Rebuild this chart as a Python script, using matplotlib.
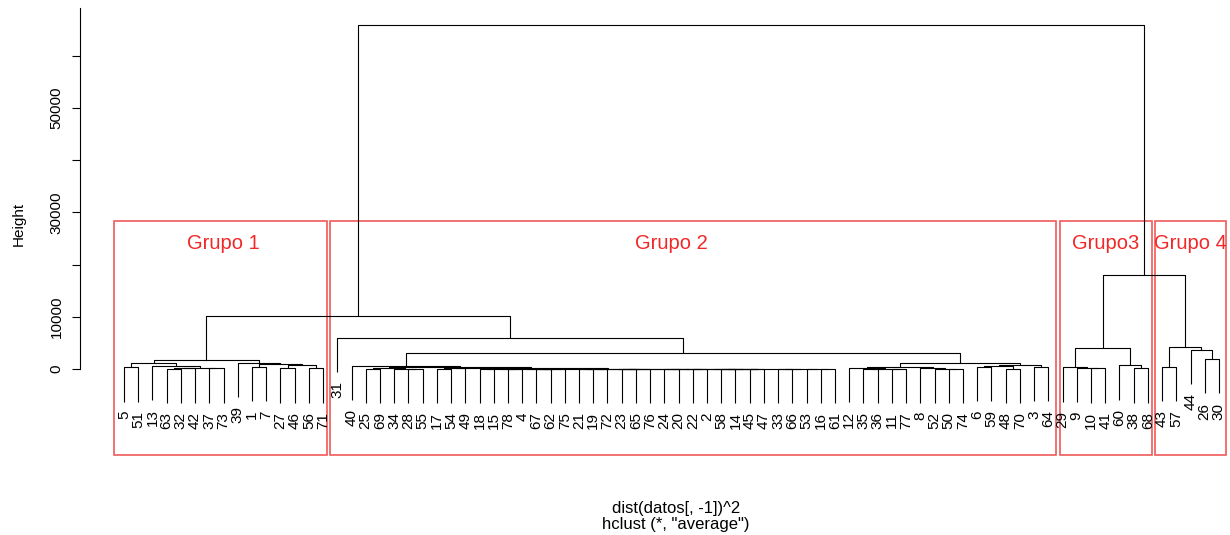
import matplotlib.pyplot as plt
from matplotlib.patches import Rectangle

plt.rcParams["font.family"] = ["Liberation Sans", "DejaVu Sans"]

# arbol de cada grupo: [izq, der, altura], los enteros son las observaciones
grupo1 = [[[5, 51, 330], [13, [[[63, 32, 80], 42, 150], [37, 73, 100], 250], 630], 1090],
          [39, [[1, 7, 440], [[27, 46, 150], [56, 71, 130], 700], 900], 1200],
          1720]

g2_b12 = [[[18, 15, 0], [78, 4, 0], 10], [[67, 62, 0], 75, 10], 20]
g2_b34 = [[[[21, 19, 0], 72, 10], [[23, 65, 0], 76, 10], 20],
          [[[[24, 20, 0], [22, 2, 0], 10], [[58, 14, 0], [45, 47, 0], 10], 20],
           [[33, 66, 0], [53, [16, 61, 0], 10], 20], 30],
          40]
g2_c531 = [[[17, 54, 60], 49, 120], [g2_b12, g2_b34, 50], 200]
g2_c405 = [40, [[[25, 69, 60], [34, [28, 55, 40], 80], 150], g2_c531, 290], 650]
g2_c897 = [[12, [[35, 36, 0], [11, 77, 0], 10], 250], [8, [52, [50, 74, 30], 60], 150], 440]
g2_c1020 = [[[6, 59, 400], [48, 70, 50], 600], [3, 64, 450], 800]
grupo2 = [31, [g2_c405, [g2_c897, g2_c1020, 1090], 3070], 5940]

grupo3 = [[29, [9, [10, 41, 130], 200], 300], [60, [38, 68, 130], 700], 4080]
grupo4 = [[43, 57, 440], [44, [26, 30, 1900], 3640], 4270]

h_izq = 10150   # grupo 1 + grupo 2
h_der = 18000   # grupo 3 + grupo 4
h_raiz = 65900

nombres = ["Grupo 1", "Grupo 2", "Grupo3", "Grupo 4"]
caja_top = 28300
texto_y = 23950

yticks = [0, 10000, 20000, 30000, 40000, 50000, 60000]
yticklabels = ["0", "10000", "", "30000", "", "50000", ""]

W, H = 1230, 535
fig = plt.figure(figsize=(W / 100, H / 100), dpi=100)
ax = fig.add_axes([80 / W, 80 / H, 1150 / W, 447 / H])

hang = 0.1 * h_raiz
hojas = []


def dibuja(nodo):
    # devuelve (x, altura) ; altura None si es hoja
    if isinstance(nodo, int):
        x = len(hojas)
        hojas.append([x, None, nodo])
        return x, None
    izq, der, h = nodo
    xl, hl = dibuja(izq)
    if hl is None:
        hojas[-1][1] = h - hang
        hl = h - hang
    xr, hr = dibuja(der)
    if hr is None:
        hojas[-1][1] = h - hang
        hr = h - hang
    ax.plot([xl, xl, xr, xr], [hl, h, h, hr], color="black", lw=0.8,
            solid_capstyle="butt")
    return (xl + xr) / 2, h


def cuenta(nodo):
    if isinstance(nodo, int):
        return 1
    return cuenta(nodo[0]) + cuenta(nodo[1])


arbol = [[grupo1, grupo2, h_izq], [grupo3, grupo4, h_der], h_raiz]
dibuja(arbol)

for x, y, lab in hojas:
    ax.annotate(str(lab), (x, y), xytext=(0, -6.5), textcoords="offset points",
                rotation=90, ha="center", va="top", fontsize=11)

ybot = -(455 - 369) / 52.2 * 10000
ytop = (369 - 8) / 52.2 * 10000
ax.set_xlim(-(124 - 80) / 14.22, (1230 - 124) / 14.22)
ax.set_ylim(ybot, ytop)

# cajas rojas de los grupos
pad_izq = [0.7, 0.5, 0.15, 0.5]
pad_der = [0.3, 0.55, 0.3, 0.5]
ajuste = [0, -1.5, 0, 0]
inicio = 0
for i, g in enumerate([grupo1, grupo2, grupo3, grupo4]):
    n = cuenta(g)
    x0 = inicio - pad_izq[i]
    x1 = inicio + n - 1 + pad_der[i]
    ax.add_patch(Rectangle((x0, ybot), x1 - x0, caja_top - ybot, fill=False,
                           ec="#f05a5a", lw=1.2, clip_on=False))
    ax.text((inicio + inicio + n - 1) / 2 + ajuste[i], texto_y, nombres[i], color="#f02828",
            fontsize=14.5, ha="center", va="center")
    inicio += n

for s in ["top", "right", "bottom"]:
    ax.spines[s].set_visible(False)
ax.spines["left"].set_bounds(0, ytop)
ax.spines["left"].set_linewidth(0.8)
ax.set_xticks([])
ax.set_yticks(yticks)
ax.set_yticklabels(yticklabels)
ax.tick_params(axis="y", length=5.8, width=0.8, labelsize=11, pad=6, labelrotation=90)
for lbl in ax.get_yticklabels():
    lbl.set_va("center")

fig.text(19 / W, 1 - 224 / H, "Height", rotation=90, ha="center", va="center", fontsize=11)
fig.text(676 / W, 1 - 508 / H, "dist(datos[, -1])^2", ha="center", va="center", fontsize=12)
fig.text(676 / W, 1 - 525 / H, 'hclust (*, "average")', ha="center", va="center", fontsize=12)

fig.savefig("out.png", dpi=100)
